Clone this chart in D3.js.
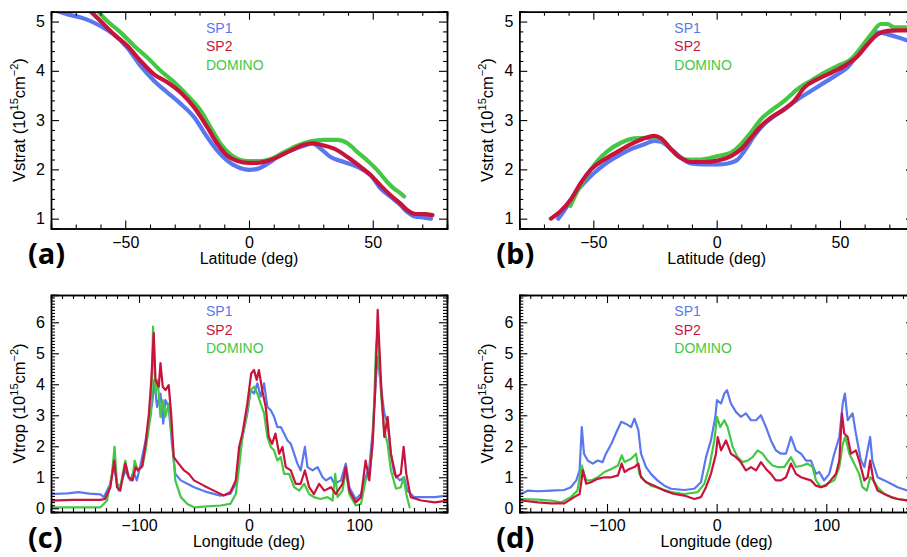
<!DOCTYPE html>
<html><head><meta charset="utf-8">
<script src="https://cdn.jsdelivr.net/npm/d3@7/dist/d3.min.js"></script>
<style>body{margin:0;background:#fff}</style>
</head><body>
<svg id="fig" width="907" height="557"></svg>
<script>
// ---------- DATA ----------
const seriesNames = ["SP1", "SP2", "DOMINO"];
const seriesColors = {SP1: "#5a78ee", SP2: "#c8143c", DOMINO: "#44c844"};
const panelLetters = ["(a)", "(b)", "(c)", "(d)"];

const latTicks = [-50, 0, 50];
const vstratTicks = [1, 2, 3, 4, 5];
const lonTicks = [-100, 0, 100];
const vtropTicks = [0, 1, 2, 3, 4, 5, 6];

// Panel (a): Vstrat vs latitude
const a_SP1 = [[-78.2,5.22],[-73.5,5.15],[-68,5.08],[-64,5.01],[-60,4.91],[-54.6,4.74],[-49.2,4.47],[-43.8,4.10],[-38.4,3.80],[-33,3.56],[-27.6,3.33],[-22.2,3.06],[-16.8,2.65],[-12.8,2.38],[-8.8,2.18],[-4.7,2.05],[0,1.99],[3.4,2.01],[7.4,2.11],[11.5,2.25],[16.8,2.38],[22.2,2.48],[25.6,2.52],[29,2.42],[33,2.25],[38.4,2.15],[43.8,2.05],[49.2,1.88],[53.2,1.61],[57.3,1.44],[61.3,1.27],[64,1.13],[66.7,1.05],[70.8,1.02],[73.5,1.0]];
const a_SP2 = [[-64.3,5.22],[-60,5.01],[-54.6,4.74],[-49.2,4.51],[-43.8,4.20],[-38.4,3.93],[-33,3.77],[-27.6,3.56],[-22.2,3.26],[-16.8,2.85],[-12.8,2.52],[-8.8,2.28],[-4.7,2.17],[0,2.13],[3.4,2.13],[7.4,2.17],[11.5,2.25],[16.8,2.38],[22.2,2.50],[25.6,2.53],[29,2.50],[34.4,2.42],[39.8,2.25],[45.1,2.05],[49.2,1.88],[53.2,1.67],[57.3,1.47],[61.3,1.30],[64,1.17],[66.7,1.10],[70.8,1.09],[74.1,1.07]];
const a_DOMINO = [[-61.3,5.22],[-57.3,5.01],[-51.9,4.78],[-46.5,4.51],[-41.1,4.27],[-35.7,4.0],[-30.3,3.77],[-24.9,3.50],[-19.5,3.19],[-15.5,2.85],[-11.5,2.52],[-7.4,2.30],[-3.4,2.19],[0,2.17],[4.7,2.17],[8.8,2.21],[14.2,2.35],[19.5,2.48],[24.9,2.57],[30.3,2.60],[35.7,2.60],[39.8,2.53],[43.8,2.35],[47.8,2.18],[51.9,1.98],[55.9,1.74],[58.6,1.61],[60.6,1.54],[62.7,1.45]];

// Panel (b): Vstrat vs latitude
const b_SP1 = [[-64.2,1.0],[-61.8,1.16],[-57.7,1.49],[-53.6,1.73],[-49.6,1.93],[-45.5,2.10],[-40.1,2.27],[-34.7,2.41],[-29.3,2.51],[-25.3,2.58],[-22.6,2.56],[-18.5,2.41],[-14.5,2.24],[-10.4,2.12],[-5,2.10],[0.4,2.10],[4.5,2.12],[8.5,2.20],[11.2,2.37],[15.3,2.68],[19.3,2.92],[23.4,3.08],[27.4,3.22],[32.8,3.42],[38.2,3.59],[43.6,3.76],[49.1,3.93],[53.1,4.07],[57.2,4.34],[61.2,4.62],[65.3,4.78],[69.3,4.74],[73.4,4.68],[77.6,4.61]];
const b_SP2 = [[-67.2,1.0],[-63.1,1.16],[-59.1,1.39],[-55,1.73],[-50.9,2.0],[-45.5,2.2],[-40.1,2.36],[-34.7,2.51],[-29.3,2.63],[-25.3,2.68],[-22.6,2.63],[-18.5,2.41],[-14.5,2.23],[-10.4,2.15],[-5,2.15],[0.4,2.18],[5.8,2.27],[9.9,2.41],[13.9,2.64],[18,2.88],[22,3.05],[27.4,3.22],[31.5,3.39],[35.5,3.66],[40.9,3.83],[46.4,3.96],[51.8,4.10],[57.2,4.30],[61.2,4.54],[65.3,4.74],[69.3,4.81],[73.4,4.82],[77.6,4.82]];
const b_DOMINO = [[-59.3,1.26],[-56.4,1.56],[-52.3,1.90],[-48.2,2.18],[-44.2,2.37],[-38.8,2.54],[-33.4,2.63],[-28,2.64],[-23.9,2.64],[-19.9,2.48],[-15.8,2.27],[-11.8,2.20],[-6.4,2.20],[0.4,2.27],[5.8,2.34],[9.9,2.51],[13.9,2.75],[18,3.02],[22,3.19],[27.4,3.39],[32.8,3.63],[38.2,3.80],[43.6,3.96],[49.1,4.10],[54.5,4.24],[58.5,4.47],[62.6,4.74],[66.6,4.95],[69.3,4.95],[72,4.88],[77.6,4.88]];

// Panel (c): Vtrop vs longitude
const c_SP1 = [[-180,0.46],[-165,0.48],[-155,0.52],[-145,0.47],[-135,0.45],[-132,0.36],[-126,0.79],[-123,1.40],[-118.5,0.57],[-112.5,1.22],[-108,0.9],[-105,1.17],[-102,0.9],[-99,1.33],[-94,2.19],[-91,2.84],[-88,3.38],[-86,4.14],[-83.6,3.27],[-80.5,3.7],[-78,2.73],[-76,3.49],[-73,3.27],[-70,2.08],[-67,1.11],[-62,0.9],[-56,0.79],[-50,0.68],[-38,0.52],[-26,0.41],[-17,0.46],[-12,0.79],[-9,1.65],[-6,2.3],[-1.5,3.06],[1.5,3.81],[4.6,3.7],[7.6,4.03],[10.6,3.6],[13.7,4.03],[16.7,3.27],[19.8,3.16],[22.8,2.95],[25.8,2.62],[28.9,2.62],[31.9,2.41],[35,2.19],[38,2.08],[41,1.76],[44,1.44],[47,1.22],[50.8,1.98],[53.2,1.33],[57.8,1.22],[62.3,1.33],[66.9,1.0],[70,0.9],[74.5,1.0],[77.5,0.79],[83.6,0.9],[88,1.44],[91.2,0.68],[97,0.3],[101.8,0.46],[106,1.0],[109.4,1.33],[112.5,2.52],[115.5,4.24],[117,4.89],[120,3.92],[123,3.06],[126,2.73],[129,1.76],[132,1.11],[137,0.9],[141,1.0],[144,0.57],[150,0.36],[169,0.36],[180,0.41]];
const c_SP2 = [[-180,0.25],[-160,0.27],[-135,0.27],[-131,0.3],[-126,0.68],[-122.5,1.54],[-120,0.68],[-117,0.57],[-112.5,1.44],[-109.4,1.0],[-106,0.9],[-103,1.33],[-101,1.22],[-97,1.38],[-94,2.08],[-91,3.06],[-89,4.03],[-86.6,5.65],[-85,4.14],[-82,3.92],[-80.5,4.68],[-78.4,3.92],[-76,3.81],[-73,3.97],[-70.8,3.06],[-68.4,1.65],[-64,1.44],[-59,1.22],[-54.7,1.11],[-50,0.9],[-41,0.73],[-32,0.57],[-23,0.41],[-17,0.52],[-12,0.9],[-9,1.98],[-6,2.41],[-1.5,3.38],[2,4.35],[4.6,4.46],[7,4.14],[9,4.46],[12,3.81],[15.2,3.27],[18,2.3],[21,2.08],[24,2.41],[27.4,1.76],[30.4,1.98],[33.4,1.33],[38,1.22],[42.5,0.79],[47,0.79],[50.8,1.22],[54.7,0.68],[59,0.46],[63.8,0.79],[68.4,0.57],[74.5,0.68],[79,0.46],[85,0.79],[88,1.33],[91.2,0.57],[97,0.19],[101.8,0.36],[106,1.54],[109.4,0.9],[112.5,2.19],[114.6,3.7],[117,6.4],[118.5,5.22],[120.7,3.6],[123,2.3],[126,2.95],[129,1.76],[133.7,1.0],[138,1.11],[140.6,1.98],[143,1.11],[147,0.36],[156.5,0.25],[169,0.19],[180,0.25]];
const c_DOMINO = [[-180,0.03],[-160,0.03],[-135,0.03],[-129,0.25],[-124.6,1.11],[-122.2,1.98],[-120,0.79],[-117,0.68],[-112.5,1.54],[-109.4,1.0],[-106,0.9],[-104,1.54],[-101,1.22],[-97,1.33],[-94,1.87],[-91,2.62],[-89,3.06],[-87.2,5.86],[-85,3.7],[-83,4.14],[-80.5,2.95],[-78.4,3.49],[-76,2.95],[-73,3.38],[-70,2.3],[-67,0.9],[-62,0.36],[-56,0.14],[-50,0.03],[-38,0.06],[-26,0.09],[-17,0.14],[-12,0.46],[-9,1.33],[-6,2.3],[-1.5,3.16],[1.5,3.81],[4.6,3.92],[7.6,3.7],[10.6,3.38],[13.7,3.06],[16.7,2.3],[19.8,1.98],[22.8,1.87],[25.8,1.54],[28.9,1.65],[31.9,1.11],[36.5,1.11],[41,0.68],[45.6,0.57],[50.2,0.79],[54.7,0.46],[59,0.36],[65,0.3],[71.4,0.36],[76,0.25],[78.4,1.11],[80.5,0.36],[85,0.57],[88,1.22],[91.2,0.46],[97,0.09],[101.8,0.14],[106,0.9],[109.4,1.11],[112.5,2.08],[115.5,5.22],[117,5.65],[120,3.7],[123,2.52],[126,2.08],[129,1.22],[133.7,0.63],[138,0.68],[140.6,1.0],[143,0.46],[146,0.03]];

// Panel (d): Vtrop vs longitude
const d_SP1 = [[-178.4,0.46],[-172,0.57],[-163,0.55],[-151,0.57],[-139,0.59],[-133,0.68],[-128,0.9],[-125,1.22],[-123,2.62],[-121,1.76],[-117.6,1.54],[-113,1.44],[-108.5,1.54],[-104,1.49],[-101,1.76],[-96,2.08],[-92,2.41],[-87,2.79],[-83,2.73],[-78,2.62],[-75,2.89],[-71.4,2.52],[-69,1.76],[-64.4,1.33],[-60,1.11],[-54,0.9],[-47.7,0.73],[-41.6,0.63],[-29.5,0.59],[-20.4,0.63],[-14.3,0.84],[-9.7,1.65],[-5.2,2.19],[-1.2,2.95],[0.3,3.49],[4,3.38],[7,3.7],[9.4,3.81],[13,3.38],[17.6,3.11],[22,2.95],[26.7,3.06],[31.3,2.84],[35.9,2.84],[40.4,3.0],[45,2.62],[49.5,2.19],[54,1.87],[58.7,1.76],[63.2,1.76],[67.8,2.3],[72.3,1.87],[77,1.76],[81.5,1.54],[86,1.54],[90.6,1.11],[93.6,1.17],[98,0.9],[102.7,1.11],[107.3,1.76],[111.9,2.3],[115,3.38],[117,3.7],[119.5,2.84],[124,3.06],[127,2.41],[131.6,1.54],[134.7,1.33],[140,2.3],[142,1.54],[146.8,1.0],[153,0.9],[159,0.79],[165,0.68],[174.5,0.57],[180,0.52]];
const d_SP2 = [[-178.4,0.25],[-163,0.19],[-151,0.16],[-139,0.16],[-130,0.36],[-125,0.46],[-122,1.22],[-119,0.79],[-114.6,0.84],[-108.5,0.95],[-102.4,1.0],[-96,1.0],[-90,1.06],[-86.6,1.44],[-84,1.17],[-79.6,1.27],[-75,1.33],[-71.4,1.44],[-69,1.0],[-64.4,0.84],[-56.8,0.73],[-47.7,0.57],[-38.6,0.46],[-29.5,0.41],[-20.4,0.3],[-14.3,0.36],[-9.7,0.68],[-5.2,1.11],[-0.6,1.76],[1,2.3],[4,1.87],[8.5,2.19],[13,1.76],[17.6,1.65],[22,1.49],[26.7,1.22],[31.3,1.33],[35.9,1.22],[40.4,1.49],[45,1.27],[49.5,1.11],[54,0.9],[58.7,0.9],[63.2,1.0],[67.8,1.44],[72.3,1.11],[77,1.0],[81.5,0.95],[86,0.9],[90.6,0.73],[95,0.68],[99.7,0.73],[104,0.9],[108.8,1.11],[111.9,1.54],[114.3,3.06],[116.4,2.41],[119.5,2.3],[122.5,1.76],[127,1.87],[130,1.54],[134.7,0.9],[137.7,1.0],[140,1.54],[143,0.9],[146.8,0.57],[153,0.46],[159,0.36],[165,0.3],[174.5,0.25],[180,0.22]];
const d_DOMINO = [[-178.4,0.3],[-163,0.28],[-151,0.25],[-142,0.19],[-133,0.36],[-127,0.57],[-123,1.38],[-119,0.9],[-114.6,0.9],[-108.5,1.0],[-102.4,1.17],[-96,1.27],[-90,1.38],[-86.6,1.71],[-84,1.49],[-78,1.6],[-73.5,1.76],[-70.5,1.11],[-66,0.9],[-60,0.73],[-50.8,0.63],[-41.6,0.52],[-29.5,0.46],[-17.3,0.52],[-11.2,0.79],[-6.7,1.33],[-2.1,2.19],[0.3,2.95],[3.3,2.62],[7,2.84],[10,2.62],[14.6,1.98],[19,1.65],[23.7,1.49],[28.3,1.54],[32.8,1.65],[37.4,1.87],[41.9,1.76],[46.5,1.54],[51,1.38],[55.6,1.33],[61.7,1.33],[67.8,1.65],[72.3,1.33],[78.4,1.38],[83,1.44],[87.5,1.33],[90.6,0.9],[95,0.68],[101,0.79],[107.3,0.9],[111.9,1.33],[115,2.08],[117.3,2.3],[121,1.76],[125.5,1.44],[130,1.11],[133,0.68],[137,0.57],[140,1.0],[143,0.9],[146.8,0.68],[153,0.46],[159,0.36],[165,0.3],[174.5,0.25],[180,0.22]];

// ---------- LAYOUT ----------
const svg = d3.select("#fig");
const FONT = "'Liberation Sans', Arial, Helvetica, sans-serif";

const panels = [
  {letter: panelLetters[0], x0: 51, x1: 447, y0: 11.7, y1: 228.5, xd: [-80, 80], yd: [0.8, 5.2],
   xMaj: latTicks, xMin: d3.range(-80, 81, 10), yMaj: vstratTicks, yMin: d3.range(8, 53, 2).map(v => v / 10),
   xTitle: "Latitude (deg)", yTitle: "Vstrat", data: {SP1: a_SP1, SP2: a_SP2, DOMINO: a_DOMINO}, lw: 4.2, smooth: true},
  {letter: panelLetters[1], x0: 519.3, x1: 914, y0: 11.7, y1: 228.5, xd: [-80, 80], yd: [0.8, 5.2],
   xMaj: latTicks, xMin: d3.range(-80, 81, 10), yMaj: vstratTicks, yMin: d3.range(8, 53, 2).map(v => v / 10),
   xTitle: "Latitude (deg)", yTitle: "Vstrat", data: {SP1: b_SP1, SP2: b_SP2, DOMINO: b_DOMINO}, lw: 4.2, smooth: true},
  {letter: panelLetters[2], x0: 51, x1: 447, y0: 295, y1: 512, xd: [-180, 180], yd: [-0.12, 6.88],
   xMaj: lonTicks, xMin: d3.range(-180, 181, 10), yMaj: vtropTicks, yMin: d3.range(-1, 69, 1).map(v => v / 10),
   xTitle: "Longitude (deg)", yTitle: "Vtrop", data: {SP1: c_SP1, SP2: c_SP2, DOMINO: c_DOMINO}, lw: 2.2, smooth: false},
  {letter: panelLetters[3], x0: 519.3, x1: 914, y0: 295, y1: 512, xd: [-180, 180], yd: [-0.12, 6.88],
   xMaj: lonTicks, xMin: d3.range(-180, 181, 10), yMaj: vtropTicks, yMin: d3.range(-1, 69, 1).map(v => v / 10),
   xTitle: "Longitude (deg)", yTitle: "Vtrop", data: {SP1: d_SP1, SP2: d_SP2, DOMINO: d_DOMINO}, lw: 2.2, smooth: false}
];

panels.forEach((p, i) => {
  const x = d3.scaleLinear().domain(p.xd).range([p.x0, p.x1]);
  const y = d3.scaleLinear().domain(p.yd).range([p.y1, p.y0]);
  const g = svg.append("g");

  const clipId = "clip" + i;
  svg.append("clipPath").attr("id", clipId).append("rect")
    .attr("x", p.x0).attr("y", p.y0).attr("width", p.x1 - p.x0).attr("height", p.y1 - p.y0);

  const line = d3.line().x(d => x(d[0])).y(d => y(d[1]))
    .curve(p.smooth ? d3.curveMonotoneX : d3.curveLinear);
  const order = ["SP1", "DOMINO", "SP2"];
  const lg = g.append("g").attr("clip-path", `url(#${clipId})`);
  order.forEach(name => {
    lg.append("path").datum(p.data[name])
      .attr("d", line).attr("fill", "none")
      .attr("stroke", seriesColors[name]).attr("stroke-width", p.lw)
      .attr("stroke-linejoin", "round").attr("stroke-linecap", "round");
  });

  const styleAxis = sel => {
    sel.select(".domain").attr("stroke", "#000").attr("stroke-width", 1.4);
    sel.selectAll(".tick line").attr("stroke", "#000").attr("stroke-width", 1.1);
    sel.selectAll("text").attr("font-family", FONT).attr("font-size", 16).attr("fill", "#000");
  };
  const minX = p.xMin.filter(v => !p.xMaj.includes(v));
  const minY = p.yMin.filter(v => !p.yMaj.some(m => Math.abs(m - v) < 1e-9));

  g.append("g").attr("transform", `translate(0,${p.y1})`)
    .call(d3.axisBottom(x).tickValues(p.xMaj).tickSize(-8).tickPadding(8)).call(styleAxis);
  g.append("g").attr("transform", `translate(0,${p.y1})`)
    .call(d3.axisBottom(x).tickValues(minX).tickSize(-4).tickFormat("")).call(styleAxis);
  g.append("g").attr("transform", `translate(0,${p.y0})`)
    .call(d3.axisTop(x).tickValues(p.xMaj).tickSize(-8).tickFormat("")).call(styleAxis);
  g.append("g").attr("transform", `translate(0,${p.y0})`)
    .call(d3.axisTop(x).tickValues(minX).tickSize(-4).tickFormat("")).call(styleAxis);

  g.append("g").attr("transform", `translate(${p.x0},0)`)
    .call(d3.axisLeft(y).tickValues(p.yMaj).tickSize(-8).tickPadding(6).tickFormat(d3.format("d"))).call(styleAxis);
  g.append("g").attr("transform", `translate(${p.x0},0)`)
    .call(d3.axisLeft(y).tickValues(minY).tickSize(-4).tickFormat("")).call(styleAxis);
  g.append("g").attr("transform", `translate(${p.x1},0)`)
    .call(d3.axisRight(y).tickValues(p.yMaj).tickSize(-8).tickFormat("")).call(styleAxis);
  g.append("g").attr("transform", `translate(${p.x1},0)`)
    .call(d3.axisRight(y).tickValues(minY).tickSize(-4).tickFormat("")).call(styleAxis);

  g.append("text").attr("x", (p.x0 + p.x1) / 2).attr("y", p.y1 + 35)
    .attr("text-anchor", "middle").attr("font-family", FONT).attr("font-size", 16)
    .text(p.xTitle);

  const yt = g.append("text")
    .attr("transform", `translate(${p.x0 - 26},${(p.y0 + p.y1) / 2}) rotate(-90)`)
    .attr("text-anchor", "middle").attr("font-family", FONT).attr("font-size", 16.5);
  yt.append("tspan").text(p.yTitle + " (10");
  yt.append("tspan").attr("font-size", 11).attr("dy", -7).text("15");
  yt.append("tspan").attr("dy", 7).text("cm");
  yt.append("tspan").attr("font-size", 11).attr("dy", -7).text("\u22122");
  yt.append("tspan").attr("dy", 7).text(")");

  seriesNames.forEach((name, k) => {
    g.append("text").attr("x", p.x0 + 155).attr("y", p.y0 + 21 + k * 18.5)
      .attr("font-family", FONT).attr("font-size", 14).attr("fill", seriesColors[name])
      .text(name);
  });

  g.append("text").attr("x", p.x0 - 23).attr("y", p.y1 + 35.5)
    .attr("font-family", "'Open Sans', 'DejaVu Sans', sans-serif").attr("font-weight", "bold")
    .attr("font-size", 29).attr("fill", "#000").text(p.letter);
});
</script>
</body></html>
